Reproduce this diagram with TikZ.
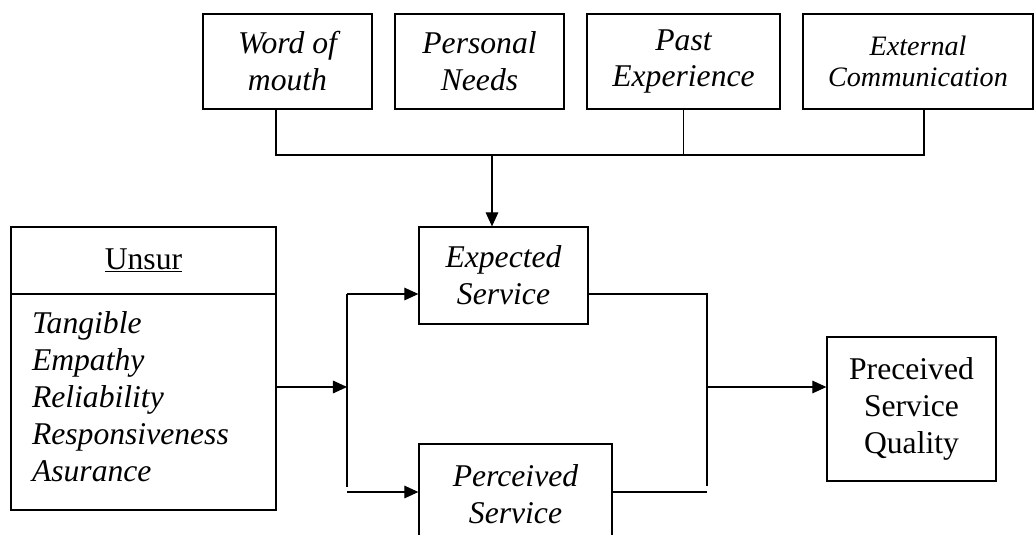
\documentclass[tikz,border=0pt]{standalone}
\usepackage{fontspec}
\setmainfont{Liberation Serif}
\usetikzlibrary{arrows.meta, positioning}

\begin{document}
\begin{tikzpicture}[
  x=0.025cm, y=-0.025cm,
  box/.style={draw, line width=0.9pt, inner sep=0pt, align=center,
              font=\fontsize{22.5}{26.3}\selectfont\itshape},
  plain/.style={font=\fontsize{22.5}{26.3}\selectfont\upshape},
  link/.style={line width=0.8pt},
  arr/.style={link, -{Triangle[length=10pt, width=9pt]}},
]
  \def\U{0.025cm} % one pixel of the original

  \useasboundingbox (0,0) rectangle (1035,534);
  \clip (0,0) rectangle (1035,534);

  % --- sources of expectation ---
  \node[box, minimum width=169*\U, minimum height=95*\U] (wom) at (287.5,61.5)
    {Word of\\mouth};
  \node[box, minimum width=169*\U, minimum height=95*\U] (pn) at (479.5,61.5)
    {Personal\\Needs};
  \node[box, minimum width=193*\U, minimum height=95*\U] (pe) at (683.5,61.5)
    {Past\\Experience};
  \node[box, minimum width=230*\U, minimum height=95*\U,
        font=\fontsize{20}{22.5}\selectfont\itshape] (ec) at (918,61.5)
    {External\\Communication};

  % --- unsur ---
  \node[box, plain, minimum width=265*\U, minimum height=67*\U] (head) at (143.5,260.5)
    {\underline{Unsur}};
  \node[box, align=left, inner xsep=21*\U, text width=223*\U,
        minimum height=216*\U] (body) at (143.5,402)
    {Tangible\\Empathy\\Reliability\\Responsiveness\\Asurance\strut};

  % --- service ---
  \node[box, minimum width=169*\U, minimum height=97*\U] (exp) at (503.5,275.5)
    {Expected\\Service};
  \node[box, minimum width=193*\U, minimum height=100*\U] (per) at (515.5,494)
    {Perceived\\Service};
  \node[box, plain, minimum width=169*\U, minimum height=144*\U] (psq) at (911.5,409)
    {Preceived\\Service\\Quality};

  % expectation bus
  \coordinate (busL) at (276,155);
  \coordinate (busR) at (924,155);
  \coordinate (drop) at (492,155);
  \draw[link] (wom.south -| busL) -- (busL) -- (busR) -- (ec.south -| busR);
  \draw[link] (pe.south) -- (pe.south |- busL);
  \draw[arr] (drop) -- (drop |- exp.north);

  % left fork
  \coordinate (forkIn) at (347,387);
  \coordinate (forkTop) at (347,294);
  \coordinate (forkEnd) at (347,487);
  \coordinate (forkLow) at (347,492);
  \draw[arr] (body.east |- forkIn) -- (forkIn);
  \draw[link] (forkTop) -- (forkEnd);
  \draw[arr] (forkTop) -- (forkTop -| exp.west);
  \draw[arr] (forkLow) -- (forkLow -| per.west);

  % right join
  \coordinate (joinTop) at (707,294);
  \coordinate (joinMid) at (707,387);
  \coordinate (joinEnd) at (707,486);
  \coordinate (joinLow) at (707,492);
  \draw[link] (exp.east |- joinTop) -- (joinTop) -- (joinEnd);
  \draw[link] (per.east |- joinLow) -- (joinLow);
  \draw[arr] (joinMid) -- (joinMid -| psq.west);

\end{tikzpicture}
\end{document}
